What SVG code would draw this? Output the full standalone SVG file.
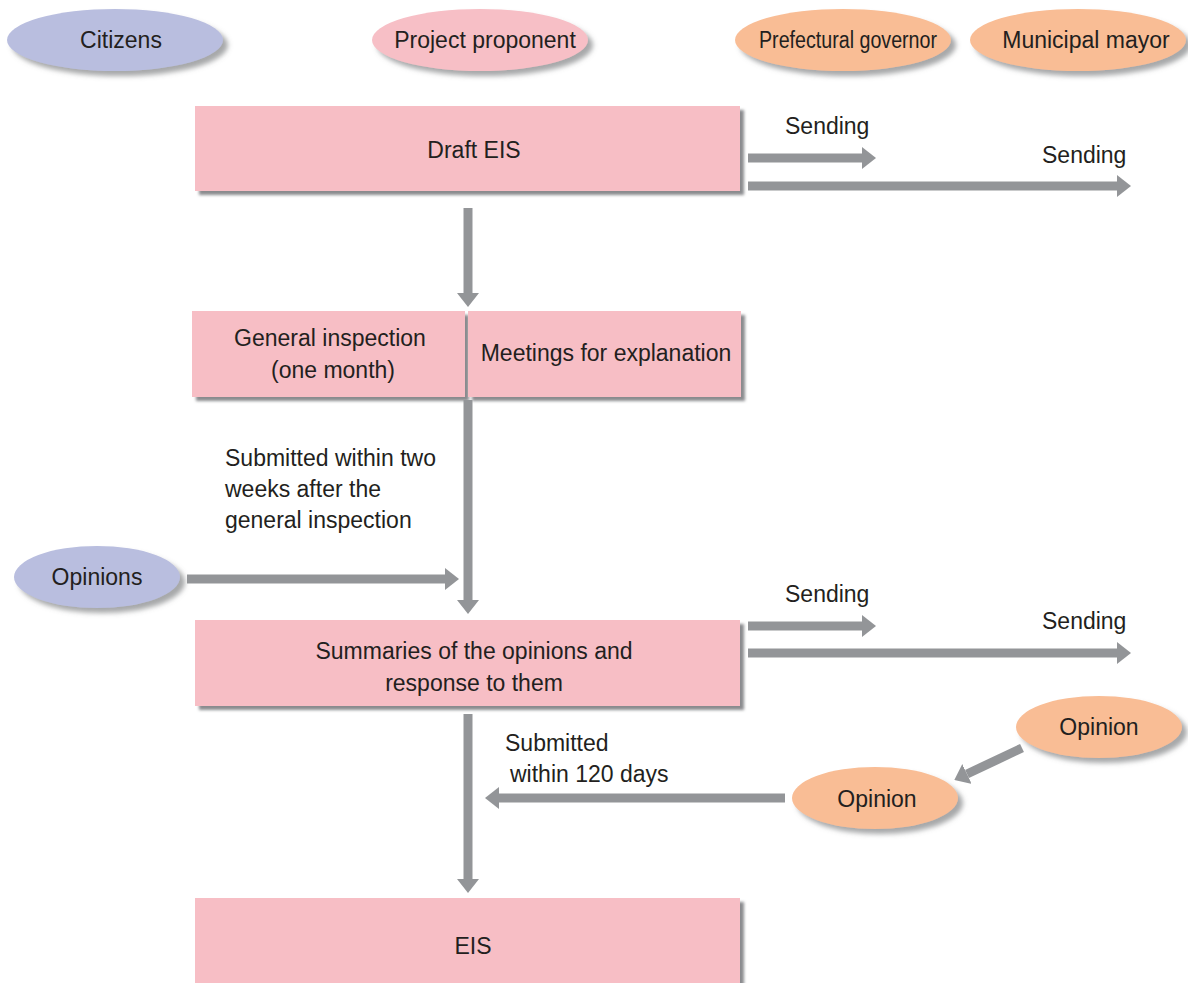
<svg xmlns="http://www.w3.org/2000/svg" width="1188" height="983" viewBox="0 0 1188 983">
  <defs>
    <style>
      text { font-family: "Liberation Sans", Arial, sans-serif; font-size: 23px; fill: #231f20; }
      .mid { text-anchor: middle; }
      .box { fill: #f7bec5; filter: url(#boxShadow); }
      .cit { fill: #b9bedf; filter: url(#ovalShadow); }
      .pro { fill: #f7bfc6; filter: url(#ovalShadow); }
      .gov { fill: #f9bd95; filter: url(#ovalShadow); }
      .shaft { stroke: #939598; stroke-width: 9; fill: none; }
      .head { fill: #939598; }
    </style>
    <filter id="boxShadow" x="-5%" y="-10%" width="115%" height="130%">
      <feDropShadow dx="4" dy="4" stdDeviation="1.5" flood-color="#6d6e71" flood-opacity="0.8"/>
    </filter>
    <filter id="ovalShadow" x="-10%" y="-20%" width="125%" height="150%">
      <feDropShadow dx="5" dy="5" stdDeviation="2.5" flood-color="#6d6e71" flood-opacity="0.6"/>
    </filter>
    <marker id="arrow" viewBox="0 0 14 22" refX="0" refY="11" markerWidth="14" markerHeight="22" markerUnits="userSpaceOnUse" orient="auto">
      <path class="head" d="M0,0 L14,11 L0,22 Z"/>
    </marker>
  </defs>

  <!-- actors row -->
  <g id="citizens">
    <ellipse class="cit" cx="115" cy="40" rx="108" ry="31"/>
    <text class="mid" x="121" y="48">Citizens</text>
  </g>
  <g id="project-proponent">
    <ellipse class="pro" cx="480" cy="40" rx="108" ry="31"/>
    <text class="mid" x="485" y="48">Project proponent</text>
  </g>
  <g id="prefectural-governor">
    <ellipse class="gov" cx="843" cy="40" rx="108" ry="31"/>
    <text x="759" y="48" textLength="178" lengthAdjust="spacingAndGlyphs">Prefectural governor</text>
  </g>
  <g id="municipal-mayor">
    <ellipse class="gov" cx="1078" cy="40" rx="108" ry="31"/>
    <text class="mid" x="1086" y="48">Municipal mayor</text>
  </g>

  <!-- process boxes -->
  <g id="draft-eis">
    <rect class="box" x="195" y="106" width="545" height="85"/>
    <text class="mid" x="474" y="158">Draft EIS</text>
  </g>
  <g id="general-inspection">
    <rect class="box" x="192" y="311" width="273" height="86"/>
    <text class="mid" x="330" y="346">General inspection</text>
    <text class="mid" x="333" y="378">(one month)</text>
  </g>
  <g id="meetings">
    <rect class="box" x="468" y="311" width="273" height="86"/>
    <text class="mid" x="606" y="361">Meetings for explanation</text>
  </g>
  <g id="summaries">
    <rect class="box" x="195" y="620" width="545" height="86"/>
    <text class="mid" x="474" y="659">Summaries of the opinions and</text>
    <text class="mid" x="474" y="691">response to them</text>
  </g>
  <g id="eis">
    <rect class="box" x="195" y="898" width="545" height="95"/>
    <text class="mid" x="473" y="954">EIS</text>
  </g>

  <!-- opinion ovals -->
  <g id="citizen-opinions">
    <ellipse class="cit" cx="97" cy="577" rx="83" ry="31"/>
    <text class="mid" x="97" y="585">Opinions</text>
  </g>
  <g id="mayor-opinion">
    <ellipse class="gov" cx="1099" cy="727" rx="83" ry="31"/>
    <text class="mid" x="1099" y="735">Opinion</text>
  </g>
  <g id="governor-opinion">
    <ellipse class="gov" cx="875" cy="798" rx="83" ry="31"/>
    <text class="mid" x="877" y="807">Opinion</text>
  </g>

  <!-- connectors -->
  <g id="connectors">
    <path class="shaft" d="M748,158 H862" marker-end="url(#arrow)"/>
    <path class="shaft" d="M748,186 H1117" marker-end="url(#arrow)"/>
    <path class="shaft" d="M468,208 V293" marker-end="url(#arrow)"/>
    <path class="shaft" d="M468,400 V600" marker-end="url(#arrow)"/>
    <path class="shaft" d="M187,579 H445" marker-end="url(#arrow)"/>
    <path class="shaft" d="M748,626 H862" marker-end="url(#arrow)"/>
    <path class="shaft" d="M748,653 H1117" marker-end="url(#arrow)"/>
    <path class="shaft" d="M468,714 V879" marker-end="url(#arrow)"/>
    <path class="shaft" d="M785,798 H499" marker-end="url(#arrow)"/>
    <path class="shaft" d="M1022,748 L967,774" marker-end="url(#arrow)"/>
  </g>

  <!-- connector labels -->
  <g id="labels">
    <text x="785" y="134">Sending</text>
    <text x="1042" y="163">Sending</text>
    <text x="785" y="602">Sending</text>
    <text x="1042" y="629">Sending</text>
    <text x="225" y="466">Submitted within two</text>
    <text x="225" y="497">weeks after the</text>
    <text x="225" y="528">general inspection</text>
    <text x="505" y="751">Submitted</text>
    <text x="510" y="782">within 120 days</text>
  </g>
</svg>
